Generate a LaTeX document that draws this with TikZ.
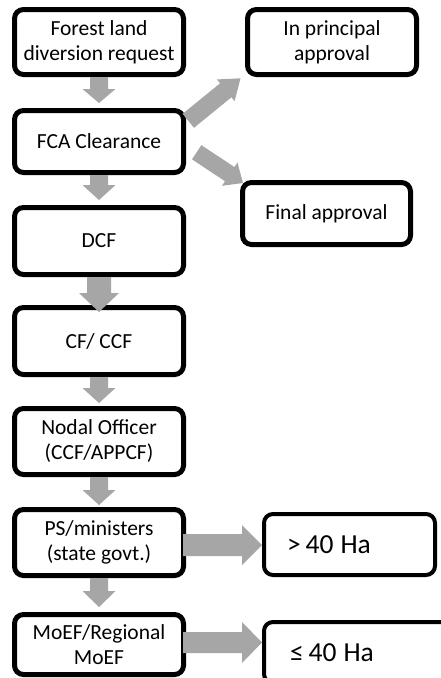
\documentclass[tikz,border=0pt]{standalone}
\usepackage{fontspec}
\setmainfont{Carlito}
\usetikzlibrary{calc}
\definecolor{arrowgray}{HTML}{A6A6A6}
\newcommand{\fatarr}[5]{%
  \coordinate (fa-s) at #1;
  \coordinate (fa-e) at #2;
  \coordinate (fa-b) at ($(fa-e)!#5!(fa-s)$);
  \fill[arrowgray] ($(fa-s)!#3!90:(fa-e)$) -- ($(fa-b)!#3!-90:(fa-s)$) -- ($(fa-b)!#4!-90:(fa-s)$) -- (fa-e) -- ($(fa-b)!#4!90:(fa-s)$) -- ($(fa-b)!#3!90:(fa-s)$) -- ($(fa-s)!#3!-90:(fa-e)$) -- cycle;
}
\begin{document}
\begin{tikzpicture}[x=1pt,y=-1pt,
  box/.style={draw=black, line width=5pt, rounded corners=9pt, fill=white,
    minimum width=169pt, align=center, inner sep=0pt,
    font=\fontsize{21.5}{25}\selectfont},
  sizebox/.style={draw=black, line width=4pt, rounded corners=9pt, fill=white,
    align=left, inner ysep=0pt, minimum height=61pt,
    font=\fontsize{27.5}{32}\selectfont}]
\useasboundingbox (0,0) rectangle (440,678);
\fill[white] (0,0) rectangle (440,678);
\node[box, minimum height=65pt] (n1) at (99,42) {Forest land\\diversion request};
\node[box, minimum height=62pt] (n2) at (99,141.5) {FCA Clearance};
\node[box, minimum height=67pt] (n3) at (99,241) {DCF};
\node[box, minimum height=67pt] (n4) at (99,341) {CF/ CCF};
\node[box, minimum height=66pt] (n5) at (99,441.5) {Nodal Officer\\(CCF/APPCF)};
\node[box, minimum height=66pt] (n6) at (99,542.5) {PS/ministers\\(state govt.)};
\node[box, minimum height=60pt] (n7) at (99,644.5) {MoEF/Regional\\MoEF};
\node[box, minimum height=65pt] (r1) at (332,42) {In principal\\approval};
\node[box, minimum width=168pt, minimum height=62pt] (r2) at (326.5,213.5) {Final approval};
\node[sizebox, inner xsep=23pt, text width=125pt] (r3) at (349.5,544.5) {>\hspace{5pt}40\hspace{7pt}Ha};
\node[sizebox, inner xsep=26pt, text width=140pt] (r4) at (360,652.5) {≤\hspace{5pt}40\hspace{7pt}Ha};
% vertical arrows
\fatarr{(n1.south)}{($(n2.north)+(0,-5)$)}{9pt}{16.5pt}{14pt}
\fatarr{(n2.south)}{($(n3.north)+(0,-5)$)}{9pt}{16.5pt}{15pt}
\fatarr{(n3.south)}{($(n4.north)+(0,7)$)}{12pt}{20pt}{19pt}
\fatarr{(n4.south)}{($(n5.north)+(0,-3)$)}{9pt}{16.5pt}{15pt}
\fatarr{(n5.south)}{($(n6.north)+(0,-2)$)}{9pt}{16.5pt}{15pt}
\fatarr{(n6.south)}{($(n7.north)+(0,-5)$)}{9pt}{16.5pt}{16pt}
% diagonal arrows
\fatarr{($(n2.east)+(2.3,-20.7)$)}{($(r1.south west)+(-4.5,1.3)$)}{9pt}{14pt}{19pt}
\fatarr{($(n2.east)+(10.7,10.7)$)}{($(r2.north west)+(3,3)$)}{8.5pt}{14pt}{16pt}
% horizontal arrows
\fatarr{($(n6.east)+(-3,2.5)$)}{($(r3.west)+(0,0.5)$)}{11pt}{20pt}{20pt}
\fatarr{($(n7.east)+(-3,-2)$)}{($(r4.west)+(0,-10)$)}{10.5pt}{20.5pt}{20pt}
\end{tikzpicture}
\end{document}
